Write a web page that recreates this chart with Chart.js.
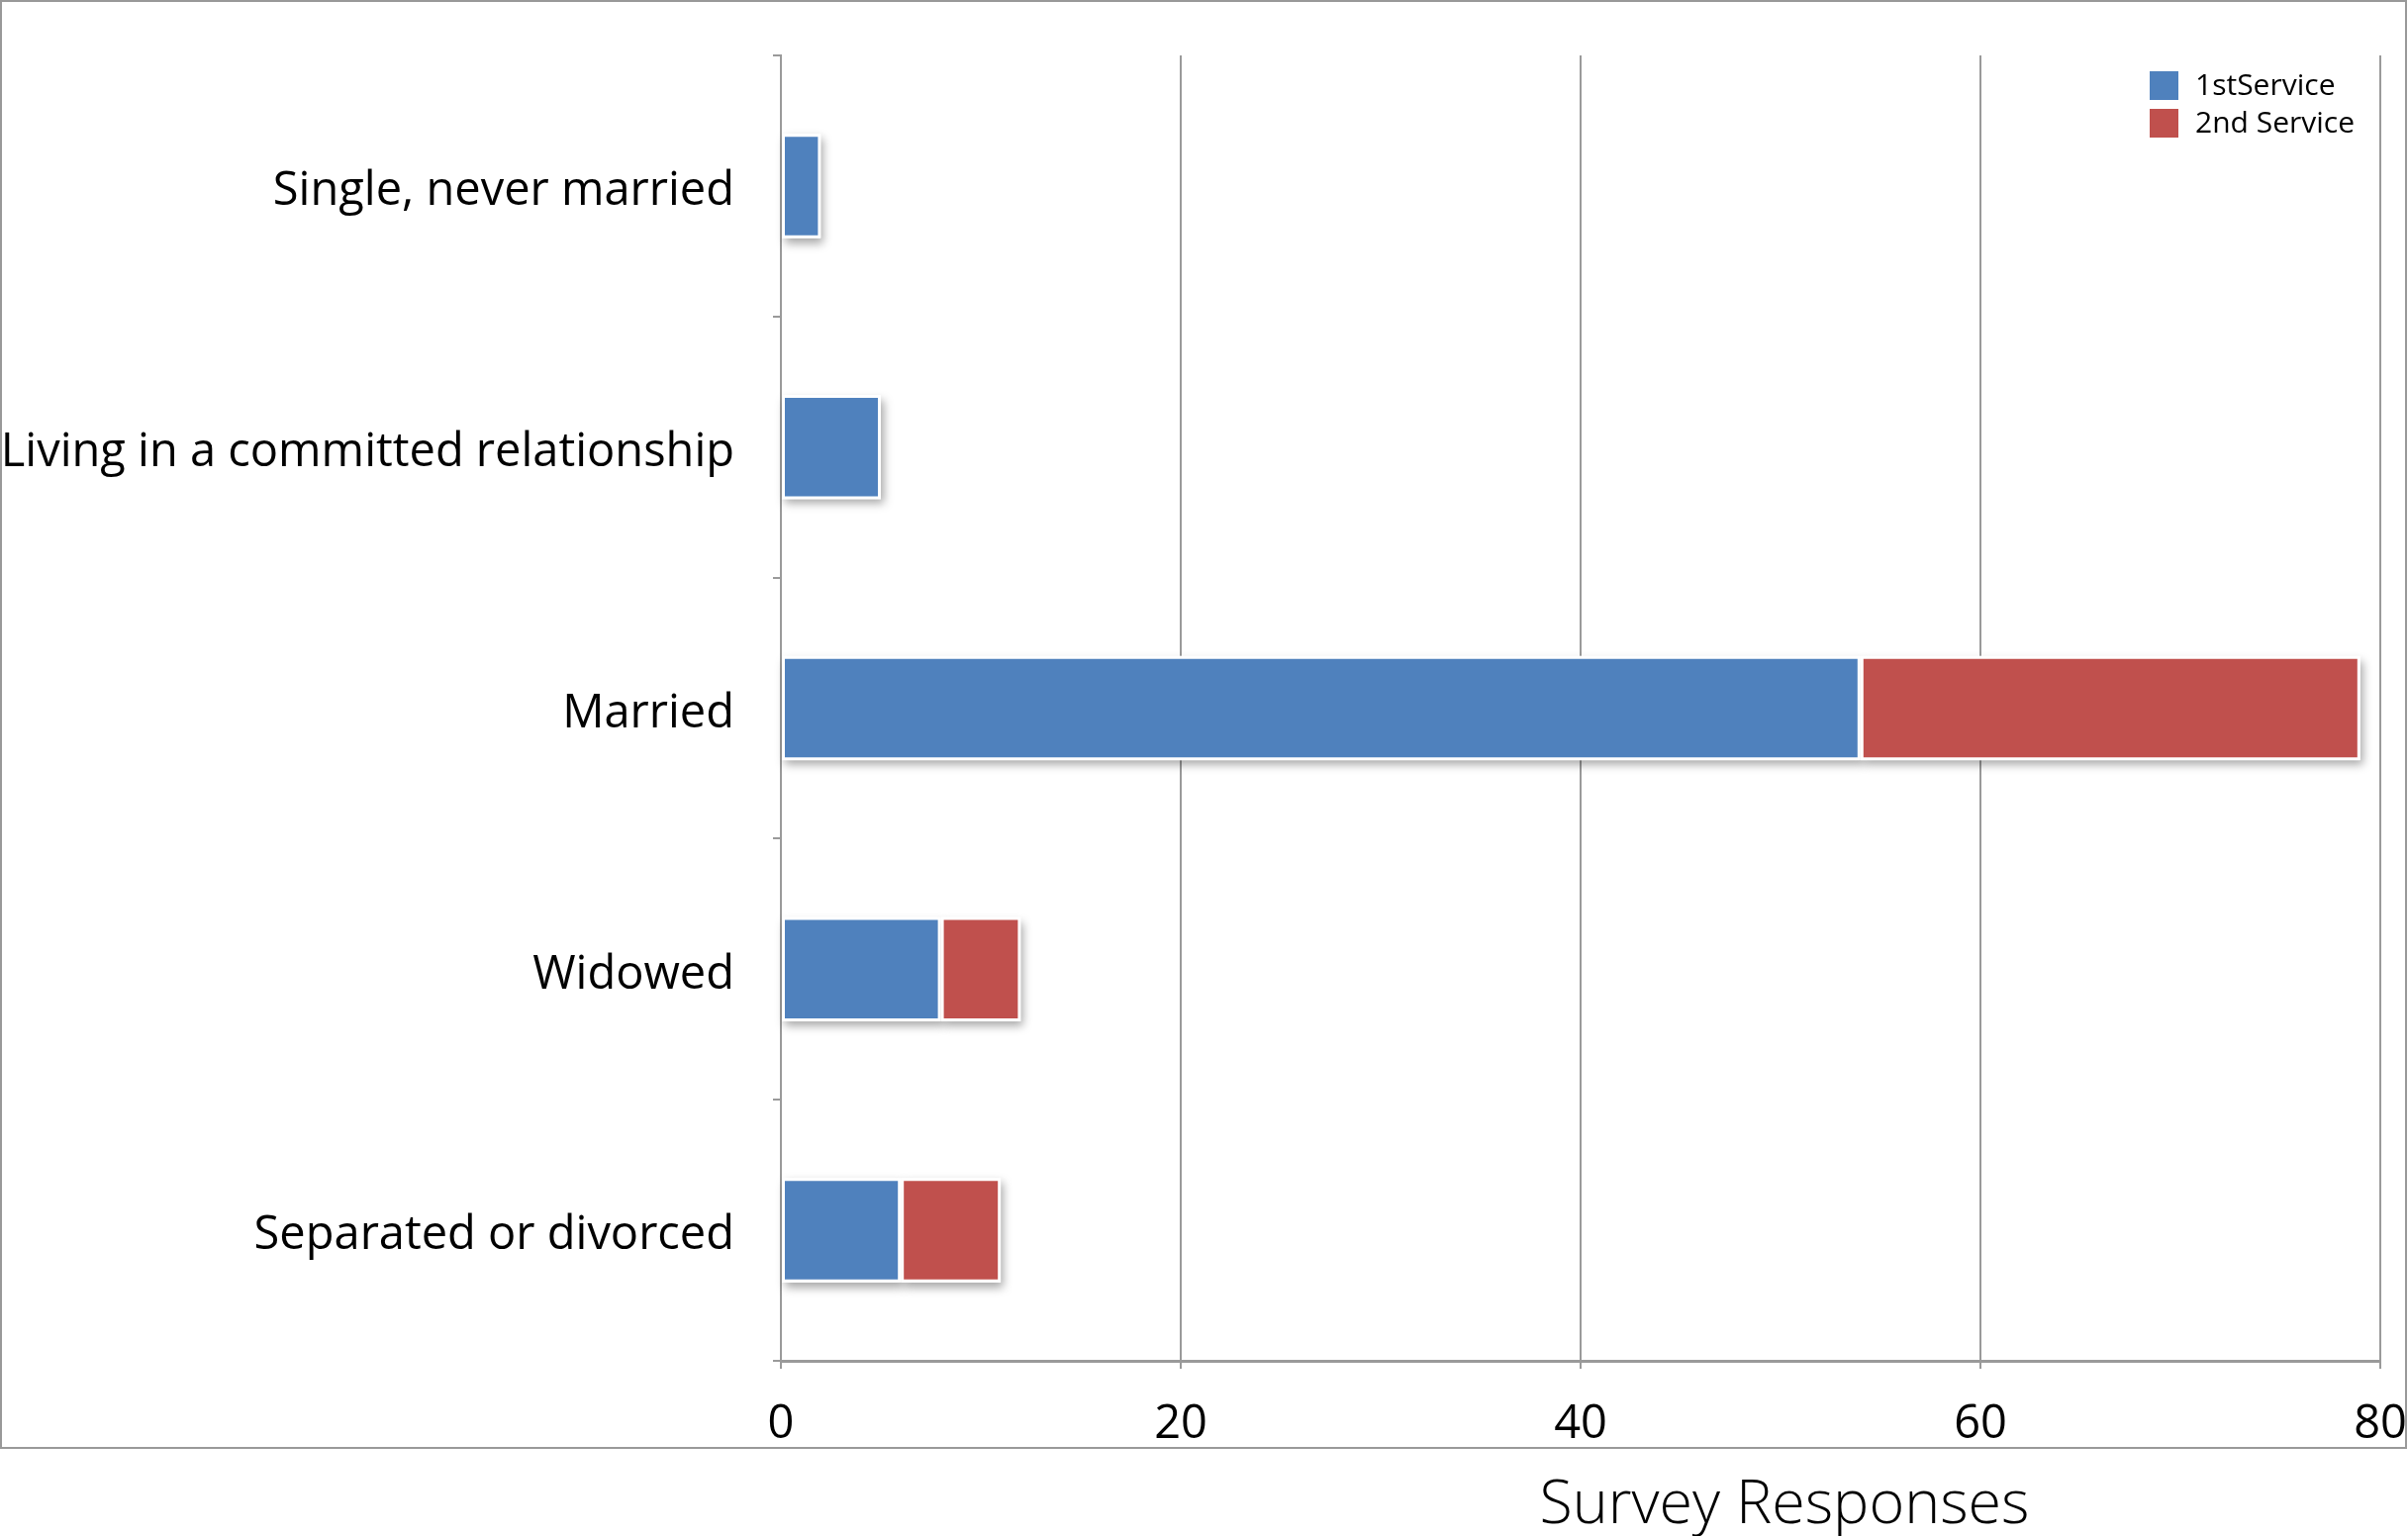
<!DOCTYPE html>
<html>
<head>
<meta charset="utf-8">
<title>Marital status</title>
<script src="https://cdn.jsdelivr.net/npm/chart.js@4/dist/chart.umd.min.js"></script>
<style>
  html, body { margin: 0; padding: 0; background: #fff; }
  canvas { display: block; }
</style>
</head>
<body>
<canvas id="statusChart" width="2433" height="1552"></canvas>
<script>
// survey counts per marital status, split by service
const categories = [
    'Single, never married',
    'Living in a committed relationship',
    'Married',
    'Widowed',
    'Separated or divorced'
];
const firstService = [2, 5, 54, 8, 6];
const secondService = [null, null, 25, 4, 5];
const seriesNames = ['1stService', '2nd Service'];
const seriesColors = ['#4F81BD', '#C0504D'];
const xMin = 0;
const xMax = 80;
const xStep = 20;
const axisTitle = 'Survey Responses';

const gridGray = '#9a9a9a';
const labelFont = { family: '"Open Sans", sans-serif', size: 47 };

// keep tick labels from pushing the plot area inwards
function noLabelOverflow(scale) {
    scale.paddingTop = 0;
    scale.paddingBottom = 0;
    scale.paddingLeft = 0;
    scale.paddingRight = 0;
}

// white page plus the grey frame around the plot part
const framePlugin = {
    id: 'frame',
    beforeDraw(chart) {
        const ctx = chart.ctx;
        ctx.save();
        ctx.fillStyle = '#fff';
        ctx.fillRect(0, 0, chart.width, chart.height);
        ctx.restore();
    },
    afterDraw(chart) {
        const ctx = chart.ctx;
        ctx.save();
        ctx.strokeStyle = '#999';
        ctx.lineWidth = 2;
        ctx.strokeRect(1, 1, chart.width - 3, 1462);
        ctx.restore();
    }
};

// soft drop shadow under each bar, drawn before the bars themselves
const barShadow = {
    id: 'barShadow',
    beforeDatasetsDraw(chart) {
        const ctx = chart.ctx;
        ctx.save();
        ctx.fillStyle = '#fff';
        ctx.shadowColor = 'rgba(0, 0, 0, 0.35)';
        ctx.shadowBlur = 9;
        ctx.shadowOffsetX = 3;
        ctx.shadowOffsetY = 5;
        chart.data.datasets.forEach((ds, i) => {
            chart.getDatasetMeta(i).data.forEach(bar => {
                const p = bar.getProps(['x', 'y', 'base', 'height'], true);
                if (p.x === p.base || isNaN(p.x)) return;
                const left = Math.min(p.x, p.base);
                const w = Math.abs(p.x - p.base);
                ctx.fillRect(left, p.y - p.height / 2, w, p.height);
            });
        });
        ctx.restore();
    }
};

// legend stacked in the top right corner of the plot
const cornerLegend = {
    id: 'cornerLegend',
    afterDatasetsDraw(chart) {
        const ctx = chart.ctx;
        const area = chart.chartArea;
        const x = area.right - 233;
        let y = area.top + 16;
        ctx.save();
        ctx.font = '30px "Open Sans", sans-serif';
        ctx.textBaseline = 'middle';
        chart.data.datasets.forEach(ds => {
            ctx.fillStyle = ds.backgroundColor;
            ctx.fillRect(x, y, 29, 29);
            ctx.fillStyle = '#000';
            ctx.fillText(ds.label, x + 46, y + 15);
            y += 38;
        });
        ctx.restore();
    }
};

// x axis title sits below the frame, right of centre
const xTitle = {
    id: 'xTitle',
    afterDraw(chart) {
        const ctx = chart.ctx;
        const sx = chart.scales.x;
        ctx.save();
        ctx.font = '300 61px "Open Sans", sans-serif';
        ctx.fillStyle = '#000';
        ctx.textAlign = 'center';
        ctx.textBaseline = 'alphabetic';
        ctx.fillText(axisTitle, sx.getPixelForValue(50.2), 1539);
        ctx.restore();
    }
};

new Chart(document.getElementById('statusChart'), {
    type: 'bar',
    data: {
        labels: categories,
        datasets: [
            {
                label: seriesNames[0],
                data: firstService,
                backgroundColor: seriesColors[0],
                borderColor: '#fff',
                borderWidth: 3,
                borderSkipped: false
            },
            {
                label: seriesNames[1],
                data: secondService,
                backgroundColor: seriesColors[1],
                borderColor: '#fff',
                borderWidth: 3,
                borderSkipped: false
            }
        ]
    },
    options: {
        indexAxis: 'y',
        responsive: false,
        animation: false,
        categoryPercentage: 1,
        barPercentage: 0.4,
        layout: { padding: { top: 56, right: 28, left: 0, bottom: 0 } },
        plugins: {
            legend: { display: false },
            tooltip: { enabled: false }
        },
        scales: {
            x: {
                stacked: true,
                min: xMin,
                max: xMax,
                afterFit(scale) {
                    scale.height = 177;
                    noLabelOverflow(scale);
                },
                ticks: {
                    stepSize: xStep,
                    color: '#000',
                    font: labelFont,
                    padding: 28,
                    maxRotation: 0
                },
                grid: {
                    color: gridGray,
                    lineWidth: 2,
                    tickLength: 8
                },
                border: { color: gridGray, width: 3 }
            },
            y: {
                stacked: true,
                afterFit(scale) {
                    scale.width = 789;
                    noLabelOverflow(scale);
                },
                ticks: {
                    color: '#000',
                    font: labelFont,
                    padding: 39,
                    labelOffset: 6
                },
                grid: {
                    drawOnChartArea: false,
                    color: gridGray,
                    lineWidth: 2,
                    tickLength: 8
                },
                border: { color: gridGray, width: 2 }
            }
        }
    },
    plugins: [framePlugin, barShadow, cornerLegend, xTitle]
});
</script>
</body>
</html>
